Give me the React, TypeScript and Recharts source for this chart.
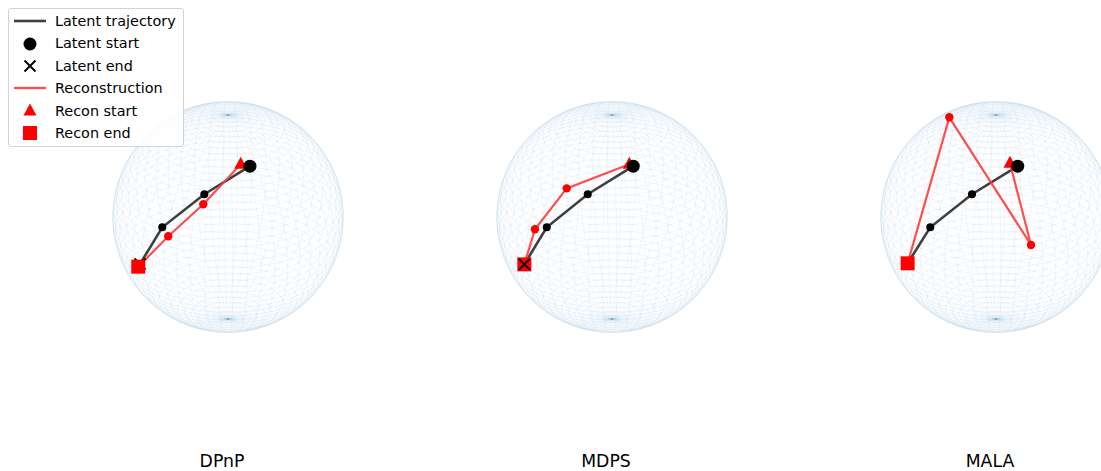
import React from 'react';
import { ScatterChart, Scatter, XAxis, YAxis, Legend } from 'recharts';

// ---------- data (projected view coordinates, unit sphere radius = 1) ----------
const panelTitles = ['DPnP', 'MDPS', 'MALA'];

const latentDPnP = [
  { x: 0.19, y: 0.44 },
  { x: -0.205, y: 0.197 },
  { x: -0.569, y: -0.089 },
  { x: -0.762, y: -0.407 },
];
const reconDPnP = [
  { x: 0.11, y: 0.456 },
  { x: -0.214, y: 0.11 },
  { x: -0.517, y: -0.167 },
  { x: -0.777, y: -0.43 },
];

const latentMDPS = [
  { x: 0.184, y: 0.44 },
  { x: -0.21, y: 0.197 },
  { x: -0.565, y: -0.089 },
  { x: -0.759, y: -0.41 },
];
const reconMDPS = [
  { x: 0.15, y: 0.456 },
  { x: -0.392, y: 0.248 },
  { x: -0.667, y: -0.106 },
  { x: -0.759, y: -0.41 },
];

const latentMALA = [
  { x: 0.188, y: 0.44 },
  { x: -0.208, y: 0.197 },
  { x: -0.569, y: -0.089 },
  { x: -0.765, y: -0.401 },
];
const reconMALA = [
  { x: 0.121, y: 0.465 },
  { x: 0.303, y: -0.242 },
  { x: -0.404, y: 0.863 },
  { x: -0.765, y: -0.401 },
];

const legendLabels = ['Latent trajectory', 'Latent start', 'Latent end', 'Reconstruction', 'Recon start', 'Recon end'];

// ---------- sphere wireframe geometry ----------
const ELEV = 28;
const AZIM = -60;
const N_MERIDIANS = 50;
const N_PARALLELS = 50;
const SAMPLES = 61;

function project(px: number, py: number, pz: number) {
  const e = (ELEV * Math.PI) / 180;
  const a = (AZIM * Math.PI) / 180;
  const right = [-Math.sin(a), Math.cos(a), 0];
  const up = [-Math.sin(e) * Math.cos(a), -Math.sin(e) * Math.sin(a), Math.cos(e)];
  return {
    x: px * right[0] + py * right[1] + pz * right[2],
    y: px * up[0] + py * up[1] + pz * up[2],
  };
}

function sphereCurves() {
  const curves: { x: number; y: number }[][] = [];
  for (let i = 0; i < N_MERIDIANS; i++) {
    const u = (2 * Math.PI * i) / N_MERIDIANS;
    const pts = [];
    for (let k = 0; k < SAMPLES; k++) {
      const v = (Math.PI * k) / (SAMPLES - 1);
      pts.push(project(Math.sin(v) * Math.cos(u), Math.sin(v) * Math.sin(u), Math.cos(v)));
    }
    curves.push(pts);
  }
  for (let j = 1; j < N_PARALLELS - 1; j++) {
    const v = (Math.PI * j) / (N_PARALLELS - 1);
    const pts = [];
    for (let k = 0; k < SAMPLES; k++) {
      const u = (2 * Math.PI * k) / (SAMPLES - 1);
      pts.push(project(Math.sin(v) * Math.cos(u), Math.sin(v) * Math.sin(u), Math.cos(v)));
    }
    curves.push(pts);
  }
  return curves;
}
const SPHERE = sphereCurves();

// ---------- styles ----------
const FONT = "'DejaVu Sans', sans-serif";
const LATENT_COLOR = '#3f3f3f';
const RECON_COLOR = '#ff3b3b';
const GRID_COLOR = '#1f77b4';

const Empty = () => <g />;
const dot = (r: number, fill: string) => (p: any) => <circle cx={p.cx} cy={p.cy} r={r} fill={fill} />;
const triangle = (p: any) => (
  <polygon points={`${p.cx},${p.cy - 7.5} ${p.cx - 6.5},${p.cy + 4.5} ${p.cx + 6.5},${p.cy + 4.5}`} fill="red" />
);
const square = (p: any) => <rect x={p.cx - 7} y={p.cy - 7} width={14} height={14} fill="red" />;
const cross = (p: any) => (
  <g stroke="black" strokeWidth={2}>
    <line x1={p.cx - 5.5} y1={p.cy - 5.5} x2={p.cx + 5.5} y2={p.cy + 5.5} />
    <line x1={p.cx - 5.5} y1={p.cy + 5.5} x2={p.cx + 5.5} y2={p.cy - 5.5} />
  </g>
);

function LegendBox() {
  const rows: [string, React.ReactNode][] = [
    [legendLabels[0], <line x1={0} y1={10} x2={32} y2={10} stroke={LATENT_COLOR} strokeWidth={2.6} />],
    [legendLabels[1], <circle cx={16} cy={10} r={6.5} fill="black" />],
    [legendLabels[2], (
      <g stroke="black" strokeWidth={2}>
        <line x1={10.5} y1={4.5} x2={21.5} y2={15.5} />
        <line x1={10.5} y1={15.5} x2={21.5} y2={4.5} />
      </g>
    )],
    [legendLabels[3], <line x1={0} y1={10} x2={32} y2={10} stroke={RECON_COLOR} strokeOpacity={0.9} strokeWidth={2.4} />],
    [legendLabels[4], <polygon points="16,2.5 9.5,14.5 22.5,14.5" fill="red" />],
    [legendLabels[5], <rect x={9} y={3} width={14} height={14} fill="red" />],
  ];
  return (
    <div
      style={{
        width: 174,
        height: 136,
        border: '1px solid #d3d3d3',
        borderRadius: 3,
        background: 'rgba(255,255,255,0.82)',
        fontFamily: FONT,
        fontSize: 14.4,
        color: '#000',
        boxSizing: 'content-box',
        paddingTop: 1,
      }}
    >
      {rows.map(([label, icon], i) => (
        <div key={i} style={{ height: 22.4, display: 'flex', alignItems: 'center', position: 'relative' }}>
          <svg width={32} height={20} style={{ position: 'absolute', left: 5, top: 1.2 }}>
            {icon}
          </svg>
          <span style={{ position: 'absolute', left: 46, top: 1, lineHeight: '20px', whiteSpace: 'nowrap' }}>{label}</span>
        </div>
      ))}
    </div>
  );
}

type Pt = { x: number; y: number };

function Panel({ title, latent, recon, endOnTop, legend }: { title: string; latent: Pt[]; recon: Pt[]; endOnTop: boolean; legend: boolean }) {
  const lStart = [latent[0]];
  const lEnd = [latent[latent.length - 1]];
  const lMid = latent.slice(1, -1);
  const rStart = [recon[0]];
  const rEnd = [recon[recon.length - 1]];
  const rMid = recon.slice(1, -1);
  return (
    <ScatterChart width={384} height={471} margin={{ top: 78.4, right: 53.4, bottom: 0, left: 53.4 }}>
      <XAxis
        type="number"
        dataKey="x"
        domain={[-1.2, 1.2]}
        allowDataOverflow
        tick={false}
        tickLine={false}
        axisLine={false}
        height={115.4}
        label={{ value: title, position: 'insideBottom', offset: 4, fill: '#000', fontSize: 17.3, fontFamily: FONT, dx: -6 }}
      />
      <YAxis type="number" dataKey="y" domain={[-1.2, 1.2]} allowDataOverflow hide />
      {SPHERE.map((c, i) => (
        <Scatter
          key={'s' + i}
          data={c}
          shape={Empty}
          line={{ stroke: GRID_COLOR, strokeWidth: 0.5, strokeOpacity: 0.12 }}
          isAnimationActive={false}
        />
      ))}
      <Scatter data={latent} shape={Empty} line={{ stroke: LATENT_COLOR, strokeWidth: 2.6 }} isAnimationActive={false} />
      <Scatter data={lMid} shape={dot(4, 'black')} isAnimationActive={false} />
      <Scatter data={recon} shape={Empty} line={{ stroke: RECON_COLOR, strokeWidth: 2.2, strokeOpacity: 0.9 }} isAnimationActive={false} />
      <Scatter data={rMid} shape={dot(4.2, 'red')} isAnimationActive={false} />
      <Scatter data={rStart} shape={triangle} isAnimationActive={false} />
      <Scatter data={lStart} shape={dot(6.5, 'black')} isAnimationActive={false} />
      {!endOnTop && <Scatter data={lEnd} shape={cross} isAnimationActive={false} />}
      <Scatter data={rEnd} shape={square} isAnimationActive={false} />
      {endOnTop && <Scatter data={lEnd} shape={cross} isAnimationActive={false} />}
      {legend && (
        <Legend
          layout="vertical"
          align="center"
          verticalAlign="middle"
          wrapperStyle={{ position: 'absolute', left: -28, top: 8, width: 176 }}
          content={() => <LegendBox />}
        />
      )}
    </ScatterChart>
  );
}

export default function App() {
  const panels = [
    { latent: latentDPnP, recon: reconDPnP, endOnTop: false },
    { latent: latentMDPS, recon: reconMDPS, endOnTop: true },
    { latent: latentMALA, recon: reconMALA, endOnTop: false },
  ];
  return (
    <div style={{ position: 'absolute', left: 0, top: 0, width: 1101, height: 471, overflow: 'hidden', background: '#fff' }}>
      {panels.map((p, i) => (
        <div key={i} style={{ position: 'absolute', left: 36 + 384 * i, top: 0, zIndex: i === 0 ? 2 : 1 }}>
          <Panel title={panelTitles[i]} latent={p.latent} recon={p.recon} endOnTop={p.endOnTop} legend={i === 0} />
        </div>
      ))}
    </div>
  );
}
